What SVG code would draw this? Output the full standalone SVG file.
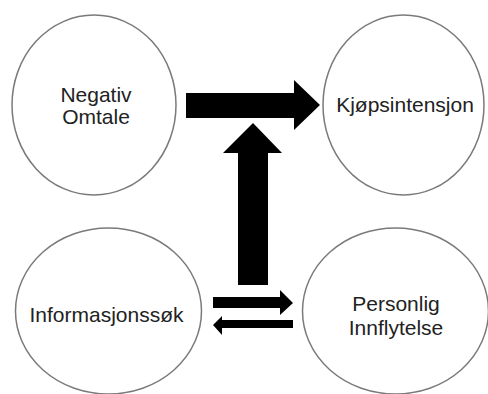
<svg xmlns="http://www.w3.org/2000/svg" width="488" height="394" viewBox="0 0 488 394">
<style>
.node{fill:#fff;stroke:#7a7a7a;stroke-width:1.5}
.lbl{font-family:"Liberation Sans",Arial,sans-serif;font-size:21px;fill:#222;text-anchor:middle}
.arr{fill:#000}
</style>
<rect width="488" height="394" fill="#fff"/>
<g id="n-negativ"><ellipse class="node" cx="94" cy="105" rx="82" ry="90"/><text class="lbl" x="96" y="102">Negativ</text><text class="lbl" x="96" y="124">Omtale</text></g>
<g id="n-kjop"><ellipse class="node" cx="403.5" cy="105" rx="80.5" ry="90"/><text class="lbl" x="405" y="112">Kjøpsintensjon</text></g>
<g id="n-info"><ellipse class="node" cx="108.5" cy="311" rx="93" ry="83"/><text class="lbl" x="106.5" y="322">Informasjonssøk</text></g>
<g id="n-pers"><ellipse class="node" cx="395.5" cy="311" rx="93" ry="83"/><text class="lbl" x="396" y="311">Personlig</text><text class="lbl" x="396" y="335">Innflytelse</text></g>
<g id="connectors">
<polygon class="arr" points="186,93 294,93 294,80 320,105 294,130 294,118 186,118"/>
<polygon class="arr" points="238,285 238,153 223,153 253,123 282,153 268,153 268,285"/>
<polygon class="arr" points="213,297 280,297 280,290 293,303 280,315 280,308 213,308"/>
<polygon class="arr" points="293,320 222,320 222,316 213,325 222,335 222,328 293,328"/>
</g>
</svg>
